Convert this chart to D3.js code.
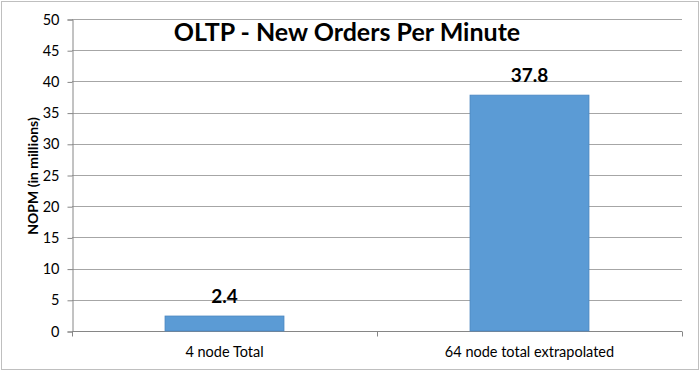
<!DOCTYPE html>
<html>
<head>
<meta charset="utf-8">
<title>OLTP - New Orders Per Minute</title>
<script src="https://cdn.jsdelivr.net/npm/d3@7"></script>
<style>
  body { margin: 0; background: #fff; }
  text { font-family: Lato, "Open Sans", sans-serif; fill: #000; }
</style>
</head>
<body>
<script>
// chart data
var categories = ["4 node Total", "64 node total extrapolated"];
var nopm = [2.4, 37.8];
var valueLabels = ["2.4", "37.8"];
var yTicks = [0, 5, 10, 15, 20, 25, 30, 35, 40, 45, 50];

var width = 700, height = 372;
var plotLeft = 72, plotRight = 682, plotTop = 19, plotBottom = 331;

var svg = d3.select("body").append("svg")
  .attr("width", width)
  .attr("height", height);

// outer frame
svg.append("rect")
  .attr("x", 1.5).attr("y", 1.5)
  .attr("width", width - 3).attr("height", height - 4)
  .attr("fill", "#fff")
  .attr("stroke", "#bfbfbf");

var x = d3.scaleBand()
  .domain(categories)
  .range([plotLeft, plotRight])
  .paddingInner(0.61)
  .paddingOuter(0.305);

var y = d3.scaleLinear()
  .domain([0, 50])
  .range([plotBottom, plotTop]);

// gridlines
svg.append("g")
  .selectAll("line")
  .data(yTicks.slice(1))
  .enter().append("line")
  .attr("x1", plotLeft).attr("x2", plotRight)
  .attr("y1", function(d){ return Math.round(y(d)) + 0.5; })
  .attr("y2", function(d){ return Math.round(y(d)) + 0.5; })
  .attr("stroke", "#a6a6a6");

// y axis
var yAxis = svg.append("g")
  .attr("transform", "translate(" + (plotLeft + 0.5) + ",0.5)")
  .call(d3.axisLeft(y).tickValues(yTicks).tickSize(5).tickPadding(8));
yAxis.select(".domain").attr("stroke", "#868686");
yAxis.selectAll(".tick line").attr("stroke", "#868686");
yAxis.selectAll(".tick text")
  .style("font-size", "14.5px")
  .style("font-family", "Lato, sans-serif")
  .attr("fill", "#000");

// x axis with ticks at category boundaries
var xg = svg.append("g").attr("transform", "translate(0," + (plotBottom + 0.5) + ")");
xg.append("line")
  .attr("x1", plotLeft).attr("x2", plotRight)
  .attr("stroke", "#868686");
xg.selectAll(".bnd")
  .data([0, 1, 2])
  .enter().append("line")
  .attr("class", "bnd")
  .attr("x1", function(i){ return Math.round(plotLeft + i * (plotRight - plotLeft) / 2) + 0.5; })
  .attr("x2", function(i){ return Math.round(plotLeft + i * (plotRight - plotLeft) / 2) + 0.5; })
  .attr("y1", 0).attr("y2", 5)
  .attr("stroke", "#868686");
xg.selectAll(".cat")
  .data(categories)
  .enter().append("text")
  .attr("x", function(d){ return x(d) + x.bandwidth() / 2; })
  .attr("y", 25)
  .attr("text-anchor", "middle")
  .style("font-size", "14.5px")
  .text(function(d){ return d; });

// bars
svg.selectAll(".bar")
  .data(nopm)
  .enter().append("rect")
  .attr("class", "bar")
  .attr("x", function(d, i){ return x(categories[i]); })
  .attr("y", function(d){ return y(d); })
  .attr("width", x.bandwidth())
  .attr("height", function(d){ return plotBottom - y(d); })
  .attr("fill", "#5b9bd5")
  .attr("stroke", "#4a86c0")
  .attr("stroke-width", 0.8);

// value labels
svg.selectAll(".val")
  .data(nopm)
  .enter().append("text")
  .attr("class", "val")
  .attr("x", function(d, i){ return x(categories[i]) + x.bandwidth() / 2; })
  .attr("y", function(d){ return y(d) - 13; })
  .attr("text-anchor", "middle")
  .style("font-size", "19px")
  .style("font-weight", "bold")
  .text(function(d, i){ return valueLabels[i]; });

// title
svg.append("text")
  .attr("x", 347)
  .attr("y", 41)
  .attr("text-anchor", "middle")
  .style("font-size", "25px")
  .style("font-weight", "bold")
  .text("OLTP - New Orders Per Minute");

// y axis title
svg.append("text")
  .attr("transform", "translate(38,176) rotate(-90)")
  .attr("text-anchor", "middle")
  .style("font-size", "14px")
  .style("font-weight", "bold")
  .text("NOPM (in millions)");
</script>
</body>
</html>
